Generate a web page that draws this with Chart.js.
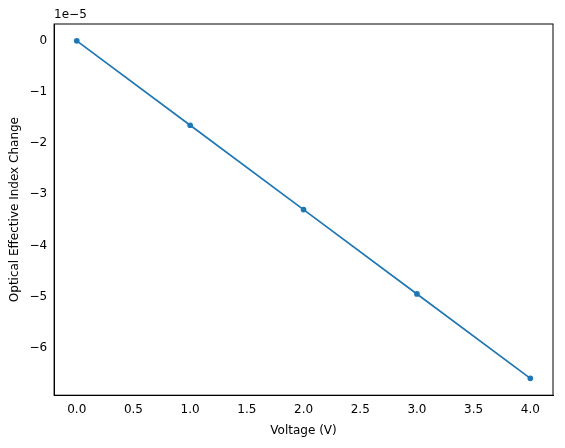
<!DOCTYPE html>
<html><head><script src="https://cdn.jsdelivr.net/npm/chart.js"></script>
<style>body{margin:0;background:#fff}#w{width:565px;height:448px}</style></head>
<body><div id="w"><canvas id="c"></canvas></div>
<script>
const voltages=[0,1,2,3,4];
const indexChange=[0,-1.65,-3.3,-4.95,-6.6]; // x1e-5
const xTicks=[0,0.5,1,1.5,2,2.5,3,3.5,4];
const yTicks=[0,-1,-2,-3,-4,-5,-6];
const font={family:'DejaVu Sans',size:12};
const exp={id:'exp',afterDraw(ch){const c=ch.ctx,a=ch.chartArea;c.save();c.font='12px DejaVu Sans';c.fillStyle='#000';c.textAlign='left';c.textBaseline='bottom';c.fillText('1e\u22125',a.left,a.top-3);c.restore();}};
new Chart(document.getElementById('c'),{type:'scatter',
data:{datasets:[{data:voltages.map((v,i)=>({x:v,y:indexChange[i]})),showLine:true,borderColor:'#1f77b4',backgroundColor:'#1f77b4',borderWidth:1.7,pointRadius:2,pointHoverRadius:2}]},
options:{animation:false,responsive:true,maintainAspectRatio:false,
layout:{padding:{left:4,right:12,top:24,bottom:6}},
plugins:{legend:{display:false},tooltip:{enabled:false}},
scales:{
x:{min:-0.2,max:4.2,afterBuildTicks(s){s.ticks=xTicks.map(v=>({value:v}))},
 ticks:{font,color:'#000',maxRotation:0,callback:v=>Number(v).toFixed(1)},
 grid:{display:false,drawTicks:true,tickLength:4,tickColor:'#000'},border:{color:'#000'},
 title:{display:true,text:'Voltage (V)',font,color:'#000'}},
y:{min:-6.93,max:0.33,afterBuildTicks(s){s.ticks=yTicks.map(v=>({value:v}))},
 ticks:{font,color:'#000',callback:v=>String(v).replace('-','\u2212')},
 grid:{display:false,tickLength:4,tickColor:'#000'},border:{color:'#000'},
 title:{display:true,text:'Optical Effective Index Change',font,color:'#000'}}
}},plugins:[exp,{id:'frame',afterDraw(ch){const c=ch.ctx,a=ch.chartArea;c.save();c.strokeStyle='#000';c.lineWidth=1;c.strokeRect(a.left,a.top,a.right-a.left,a.bottom-a.top);c.restore();}}]});
</script></body></html>
